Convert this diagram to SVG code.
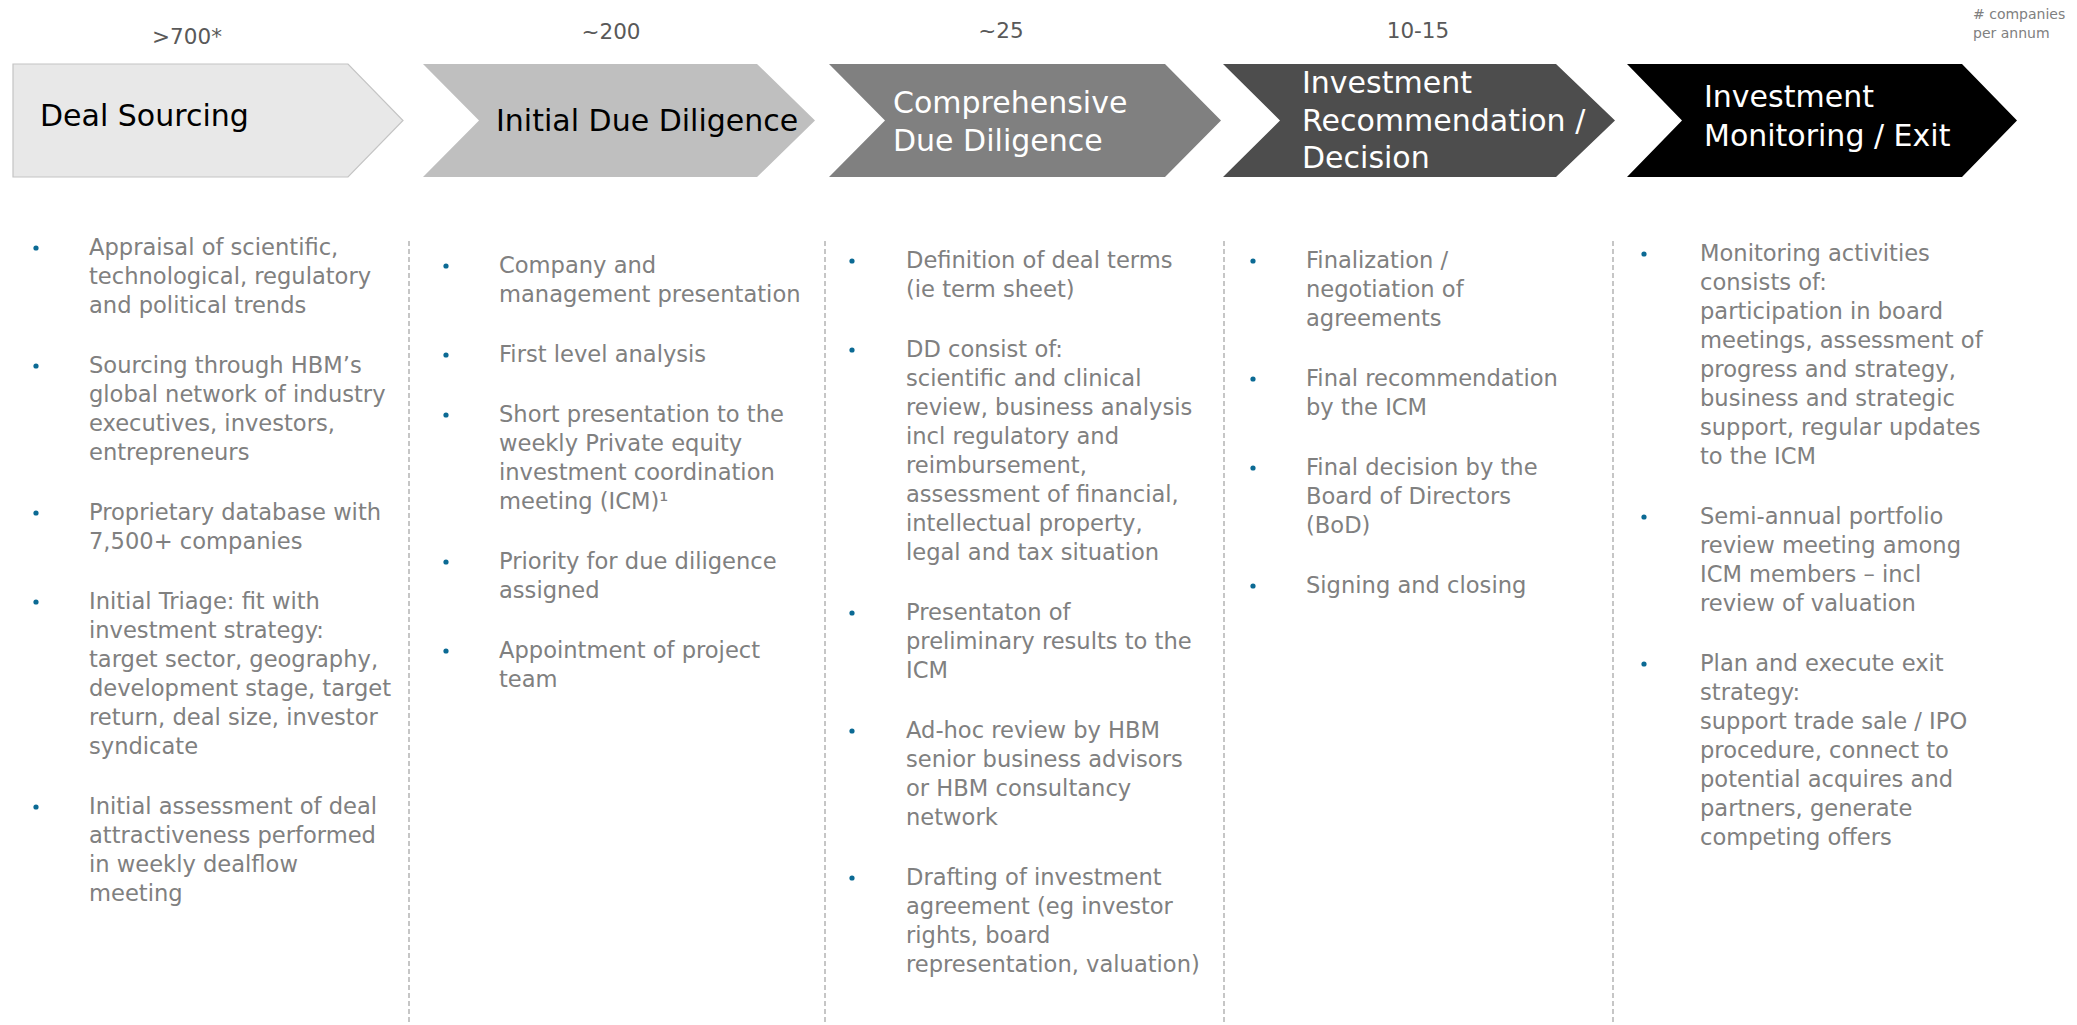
<svg xmlns="http://www.w3.org/2000/svg" width="2077" height="1025" viewBox="0 0 2077 1025">
<style>
text{font-family:"DejaVu Sans","Liberation Sans",sans-serif}
.cnt{font-size:21.5px;fill:#595959;text-anchor:middle}
.hdw{font-size:30px;fill:#ffffff}
.hdb{font-size:30px;fill:#000000}
.bt{font-size:22.6px;fill:#808080}
.note{font-size:14px;fill:#808080}
.bul{fill:#0b6a94}
.sep{stroke:#b4b4b4;stroke-width:1.5;stroke-dasharray:5 3;fill:none}
</style>
<rect width="2077" height="1025" fill="#ffffff"/>
<g id="legend">
<text class="note" x="1973" y="19"># companies</text>
<text class="note" x="1973" y="38">per annum</text>
</g>
<g id="separators">
<line class="sep" x1="409" y1="241" x2="409" y2="1025"/>
<line class="sep" x1="825" y1="241" x2="825" y2="1025"/>
<line class="sep" x1="1224" y1="241" x2="1224" y2="1025"/>
<line class="sep" x1="1613" y1="241" x2="1613" y2="1025"/>
</g>
<g id="deal-sourcing">
<text class="cnt" x="187" y="44">&gt;700*</text>
<path d="M13,64 H348 L403,120.5 L348,177 H13 Z" fill="#e8e8e8" stroke="#c4c4c4" stroke-width="1.2"/>
<text class="hdb" x="40" y="126">Deal Sourcing</text>
<g class="bt">
<circle class="bul" cx="36" cy="248" r="2.6"/>
<text x="89" y="255">Appraisal of scientific,</text>
<text x="89" y="284">technological, regulatory</text>
<text x="89" y="313">and political trends</text>
<circle class="bul" cx="36" cy="366" r="2.6"/>
<text x="89" y="373">Sourcing through HBM’s</text>
<text x="89" y="402">global network of industry</text>
<text x="89" y="431">executives, investors,</text>
<text x="89" y="460">entrepreneurs</text>
<circle class="bul" cx="36" cy="513" r="2.6"/>
<text x="89" y="520">Proprietary database with</text>
<text x="89" y="549">7,500+ companies</text>
<circle class="bul" cx="36" cy="602" r="2.6"/>
<text x="89" y="609">Initial Triage: fit with</text>
<text x="89" y="638">investment strategy:</text>
<text x="89" y="667">target sector, geography,</text>
<text x="89" y="696">development stage, target</text>
<text x="89" y="725">return, deal size, investor</text>
<text x="89" y="754">syndicate</text>
<circle class="bul" cx="36" cy="807" r="2.6"/>
<text x="89" y="814">Initial assessment of deal</text>
<text x="89" y="843">attractiveness performed</text>
<text x="89" y="872">in weekly dealflow</text>
<text x="89" y="901">meeting</text>
</g>
</g>
<g id="initial-due-diligence">
<text class="cnt" x="611" y="39">~200</text>
<path d="M423,64 H757 L815,120.5 L757,177 H423 L479,120.5 Z" fill="#bfbfbf"/>
<text class="hdb" x="496" y="131">Initial Due Diligence</text>
<g class="bt">
<circle class="bul" cx="446" cy="266" r="2.6"/>
<text x="499" y="273">Company and</text>
<text x="499" y="302">management presentation</text>
<circle class="bul" cx="446" cy="355" r="2.6"/>
<text x="499" y="362">First level analysis</text>
<circle class="bul" cx="446" cy="415" r="2.6"/>
<text x="499" y="422">Short presentation to the</text>
<text x="499" y="451">weekly Private equity</text>
<text x="499" y="480">investment coordination</text>
<text x="499" y="509">meeting (ICM)¹</text>
<circle class="bul" cx="446" cy="562" r="2.6"/>
<text x="499" y="569">Priority for due diligence</text>
<text x="499" y="598">assigned</text>
<circle class="bul" cx="446" cy="651" r="2.6"/>
<text x="499" y="658">Appointment of project</text>
<text x="499" y="687">team</text>
</g>
</g>
<g id="comprehensive-due-diligence">
<text class="cnt" x="1001" y="38">~25</text>
<path d="M829,64 H1165 L1221,120.5 L1165,177 H829 L885,120.5 Z" fill="#808080"/>
<text class="hdw" x="893" y="113">Comprehensive</text>
<text class="hdw" x="893" y="151">Due Diligence</text>
<g class="bt">
<circle class="bul" cx="852" cy="261" r="2.6"/>
<text x="906" y="268">Definition of deal terms</text>
<text x="906" y="297">(ie term sheet)</text>
<circle class="bul" cx="852" cy="350" r="2.6"/>
<text x="906" y="357">DD consist of:</text>
<text x="906" y="386">scientific and clinical</text>
<text x="906" y="415">review, business analysis</text>
<text x="906" y="444">incl regulatory and</text>
<text x="906" y="473">reimbursement,</text>
<text x="906" y="502">assessment of financial,</text>
<text x="906" y="531">intellectual property,</text>
<text x="906" y="560">legal and tax situation</text>
<circle class="bul" cx="852" cy="613" r="2.6"/>
<text x="906" y="620">Presentaton of</text>
<text x="906" y="649">preliminary results to the</text>
<text x="906" y="678">ICM</text>
<circle class="bul" cx="852" cy="731" r="2.6"/>
<text x="906" y="738">Ad-hoc review by HBM</text>
<text x="906" y="767">senior business advisors</text>
<text x="906" y="796">or HBM consultancy</text>
<text x="906" y="825">network</text>
<circle class="bul" cx="852" cy="878" r="2.6"/>
<text x="906" y="885">Drafting of investment</text>
<text x="906" y="914">agreement (eg investor</text>
<text x="906" y="943">rights, board</text>
<text x="906" y="972">representation, valuation)</text>
</g>
</g>
<g id="investment-recommendation">
<text class="cnt" x="1418" y="38">10-15</text>
<path d="M1223,64 H1556 L1615,120.5 L1556,177 H1223 L1280,120.5 Z" fill="#4d4d4d"/>
<text class="hdw" x="1302" y="93">Investment</text>
<text class="hdw" x="1302" y="131">Recommendation /</text>
<text class="hdw" x="1302" y="168">Decision</text>
<g class="bt">
<circle class="bul" cx="1253" cy="261" r="2.6"/>
<text x="1306" y="268">Finalization /</text>
<text x="1306" y="297">negotiation of</text>
<text x="1306" y="326">agreements</text>
<circle class="bul" cx="1253" cy="379" r="2.6"/>
<text x="1306" y="386">Final recommendation</text>
<text x="1306" y="415">by the ICM</text>
<circle class="bul" cx="1253" cy="468" r="2.6"/>
<text x="1306" y="475">Final decision by the</text>
<text x="1306" y="504">Board of Directors</text>
<text x="1306" y="533">(BoD)</text>
<circle class="bul" cx="1253" cy="586" r="2.6"/>
<text x="1306" y="593">Signing and closing</text>
</g>
</g>
<g id="investment-monitoring">
<path d="M1627,64 H1962 L2017,120.5 L1962,177 H1627 L1682,120.5 Z" fill="#000000"/>
<text class="hdw" x="1704" y="107">Investment</text>
<text class="hdw" x="1704" y="146">Monitoring / Exit</text>
<g class="bt">
<circle class="bul" cx="1644" cy="254" r="2.6"/>
<text x="1700" y="261">Monitoring activities</text>
<text x="1700" y="290">consists of:</text>
<text x="1700" y="319">participation in board</text>
<text x="1700" y="348">meetings, assessment of</text>
<text x="1700" y="377">progress and strategy,</text>
<text x="1700" y="406">business and strategic</text>
<text x="1700" y="435">support, regular updates</text>
<text x="1700" y="464">to the ICM</text>
<circle class="bul" cx="1644" cy="517" r="2.6"/>
<text x="1700" y="524">Semi-annual portfolio</text>
<text x="1700" y="553">review meeting among</text>
<text x="1700" y="582">ICM members – incl</text>
<text x="1700" y="611">review of valuation</text>
<circle class="bul" cx="1644" cy="664" r="2.6"/>
<text x="1700" y="671">Plan and execute exit</text>
<text x="1700" y="700">strategy:</text>
<text x="1700" y="729">support trade sale / IPO</text>
<text x="1700" y="758">procedure, connect to</text>
<text x="1700" y="787">potential acquires and</text>
<text x="1700" y="816">partners, generate</text>
<text x="1700" y="845">competing offers</text>
</g>
</g>
</svg>
